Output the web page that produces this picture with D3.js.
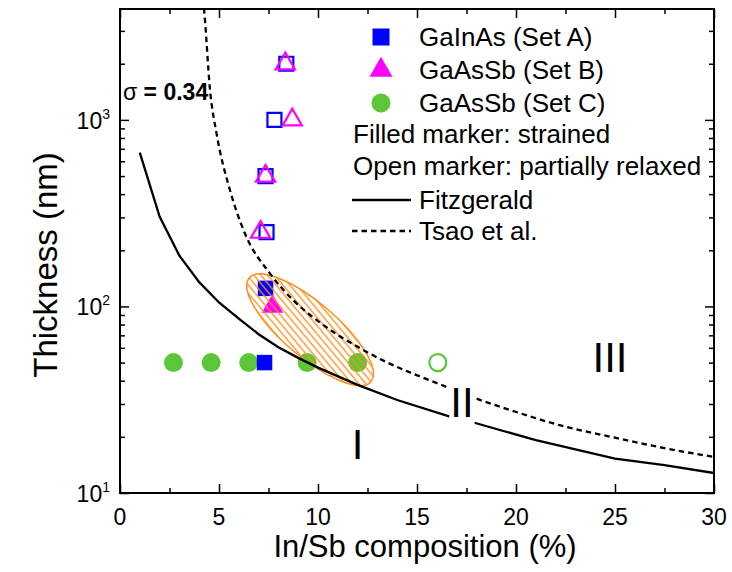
<!DOCTYPE html>
<html><head><meta charset="utf-8">
<script src="https://cdn.jsdelivr.net/npm/d3@7"></script>
<style>body{margin:0;background:#fff} svg{display:block} text{font-family:"Liberation Sans",Arial,sans-serif;fill:#000}</style>
</head><body><svg id="c" width="732" height="572"></svg>
<script>
// ---- data ----
const setA_filled = [[7.35,125],[7.3,50]];
const setA_open   = [[8.4,2000],[7.8,1000],[7.35,500],[7.4,250]];
const setB_filled = [[7.7,100]];
const setB_open   = [[8.35,2000],[8.7,1000],[7.35,500],[7.1,250]];
const setC_filled = [[2.7,50],[4.6,50],[6.5,50],[9.45,50],[12.0,50]];
const setC_open   = [[16.05,50]];
const fitzX = [1,2,3,4,5,6,7,8,9,10,12,14,16.7,17.9,21,25,27.5,30];
const fitzY = [668,303,187,135,105,86,71,60.5,53,47,38,31.5,25.6,23.8,19.2,15.3,14.1,12.8];
const tsaoX = [4.1,4.24,4.55,4.88,5.56,6.31,7.58,8.75,10.1,12.6,16.7,17.85,20,22.2,25,27.5,30];
const tsaoY = [5000,3930,1430,841,418,246,150,108,82,56,36.3,32.5,27.2,23.1,19.8,17.4,15.6];
const ellipseCenter = [9.6, 75];
const xTicks = [0,5,10,15,20,25,30];
const xMinor = [2.5,7.5,12.5,17.5,22.5,27.5];
const yTicks = [10,100,1000];
const yTickExp = ["1","2","3"];
const yMinor = [20,30,40,50,60,70,80,90,200,300,400,500,600,700,800,900,2000,3000];
const legendNames = ["GaInAs (Set A)","GaAsSb (Set B)","GaAsSb (Set C)"];
const legendNotes = ["Filled marker: strained","Open marker: partially relaxed"];
const lineNames = ["Fitzgerald","Tsao et al."];
const regionLabels = [["I",12,15.2],["II",17.27,25.5],["III",24.75,44.3]];
const sigmaText = "0.34";

const colA="#0000ff", colB="#ff00ff", colC="#5cc639", colE="#ff8c1a";

const svg = d3.select("#c");
const x = d3.scaleLinear().domain([0,30]).range([120,714]);
const y = d3.scaleLog().domain([10,3930]).range([493,9]);
const L=120,R=714,T=9,B=493;
const ellRot = 40.5;

svg.append("defs").html(`
<clipPath id="clip"><rect x="${L}" y="${T}" width="${R-L}" height="${B-T}"/></clipPath>
<pattern id="hatch" patternUnits="userSpaceOnUse" width="5.3" height="5.3" patternTransform="rotate(${50-ellRot})">
<line x1="-2" y1="2.65" x2="8" y2="2.65" stroke="${colE}" stroke-width="1.3"/></pattern>`);

const plot = svg.append("g").attr("clip-path","url(#clip)");

function sym(type,size){return d3.symbol().type(type).size(size)();}
function drawPts(data,type,size,color,filled){
  plot.selectAll(null).data(data).enter().append("path")
    .attr("d",sym(type,size))
    .attr("transform",d=>`translate(${x(d[0])},${y(d[1])})`)
    .attr("fill",filled?color:"none")
    .attr("stroke",filled?"none":color)
    .attr("stroke-width",filled?0:2.2);
}
drawPts(setC_filled,d3.symbolCircle,284,colC,true);
drawPts(setC_open,d3.symbolCircle,227,colC,false);
drawPts(setA_open,d3.symbolSquare,196,colA,false);
drawPts(setA_filled,d3.symbolSquare,240,colA,true);
drawPts(setB_open,d3.symbolTriangle,160,colB,false);
drawPts(setB_filled,d3.symbolTriangle,200,colB,true);

// ellipse
const ec=[x(ellipseCenter[0]),y(ellipseCenter[1])];
plot.append("ellipse").attr("cx",0).attr("cy",0).attr("rx",80).attr("ry",27)
  .attr("transform",`translate(${ec[0]},${ec[1]}) rotate(${ellRot})`)
  .attr("fill","url(#hatch)").attr("stroke",colE).attr("stroke-width",1.5);

const line = d3.line().x(d=>x(d[0])).y(d=>y(d[1]));
const lineSmooth = d3.line().x(d=>x(d[0])).y(d=>y(d[1])).curve(d3.curveMonotoneX);
plot.append("path").datum(fitzX.map((v,i)=>[v,fitzY[i]])).attr("d",line)
  .attr("fill","none").attr("stroke","#000").attr("stroke-width",2.3);
plot.append("path").datum(tsaoX.map((v,i)=>[v,tsaoY[i]])).attr("d",lineSmooth)
  .attr("fill","none").attr("stroke","#000").attr("stroke-width",2.3).attr("stroke-dasharray","5.5,4");

// region labels
regionLabels.forEach(([t,xv,yv])=>{
  const g=svg.append("g");
  const tx=g.append("text").attr("x",x(xv)).attr("y",y(yv)).attr("text-anchor","middle")
    .attr("font-size",42).text(t);
  if(t==="II"){
    const bb=tx.node().getBBox();
    g.insert("rect","text").attr("x",bb.x-1).attr("y",bb.y).attr("width",bb.width+2).attr("height",bb.height).attr("fill","#fff");
  }
});

// sigma
const st=svg.append("text").attr("x",123).attr("y",100).attr("font-size",23).attr("font-weight","bold");
st.append("tspan").attr("font-weight","normal").text("σ");
st.append("tspan").text(" = "+sigmaText);

// axes
function styleAxis(g){g.select(".domain").remove();g.selectAll("line").attr("stroke","#000").attr("stroke-width",1.5);g.selectAll("text").remove();}
svg.append("g").attr("transform",`translate(0,${B})`).call(d3.axisBottom(x).tickValues(xTicks).tickSize(-9)).call(styleAxis);
svg.append("g").attr("transform",`translate(0,${B})`).call(d3.axisBottom(x).tickValues(xMinor).tickSize(-5)).call(styleAxis);
svg.append("g").attr("transform",`translate(0,${T})`).call(d3.axisTop(x).tickValues(xTicks).tickSize(-9)).call(styleAxis);
svg.append("g").attr("transform",`translate(0,${T})`).call(d3.axisTop(x).tickValues(xMinor).tickSize(-5)).call(styleAxis);
svg.append("g").attr("transform",`translate(${L},0)`).call(d3.axisLeft(y).tickValues(yTicks).tickSize(-9)).call(styleAxis);
svg.append("g").attr("transform",`translate(${L},0)`).call(d3.axisLeft(y).tickValues(yMinor).tickSize(-5)).call(styleAxis);
svg.append("g").attr("transform",`translate(${R},0)`).call(d3.axisRight(y).tickValues(yTicks).tickSize(-9)).call(styleAxis);
svg.append("g").attr("transform",`translate(${R},0)`).call(d3.axisRight(y).tickValues(yMinor).tickSize(-5)).call(styleAxis);
svg.append("rect").attr("x",L).attr("y",T).attr("width",R-L).attr("height",B-T).attr("fill","none").attr("stroke","#000").attr("stroke-width",2);

// tick labels
svg.selectAll(null).data(xTicks).enter().append("text").attr("x",d=>x(d)).attr("y",525)
  .attr("text-anchor","middle").attr("font-size",23).text(d=>d);
yTicks.forEach((v,i)=>{
  const t=svg.append("text").attr("x",110).attr("y",y(v)+9).attr("text-anchor","end").attr("font-size",23);
  t.append("tspan").text("10");
  t.append("tspan").attr("font-size",14).attr("dy",-10).text(yTickExp[i]);
});

// axis titles
svg.append("text").attr("x",425).attr("y",557).attr("text-anchor","middle").attr("font-size",31).text("In/Sb composition (%)");
svg.append("text").attr("transform",`translate(57,265) rotate(-90)`).attr("text-anchor","middle").attr("font-size",33).text("Thickness (nm)");

// legend
const lg=svg.append("g");
const mk=[[d3.symbolSquare,289,colA],[d3.symbolTriangle,229,colB],[d3.symbolCircle,284,colC]];
legendNames.forEach((n,i)=>{
  const cy=37+i*33;
  lg.append("path").attr("d",sym(mk[i][0],mk[i][1])).attr("transform",`translate(381,${cy})`).attr("fill",mk[i][2]);
  lg.append("text").attr("x",419).attr("y",cy+9).attr("font-size",26).text(n);
});
legendNotes.forEach((n,i)=>{
  lg.append("text").attr("x",353).attr("y",143+i*32).attr("font-size",26).text(n);
});
lineNames.forEach((n,i)=>{
  const cy=200+i*31;
  lg.append("line").attr("x1",352).attr("x2",411).attr("y1",cy).attr("y2",cy).attr("stroke","#000").attr("stroke-width",2.3)
    .attr("stroke-dasharray",i?"5.5,4":null);
  lg.append("text").attr("x",419).attr("y",cy+9).attr("font-size",26).text(n);
});
</script></body></html>
